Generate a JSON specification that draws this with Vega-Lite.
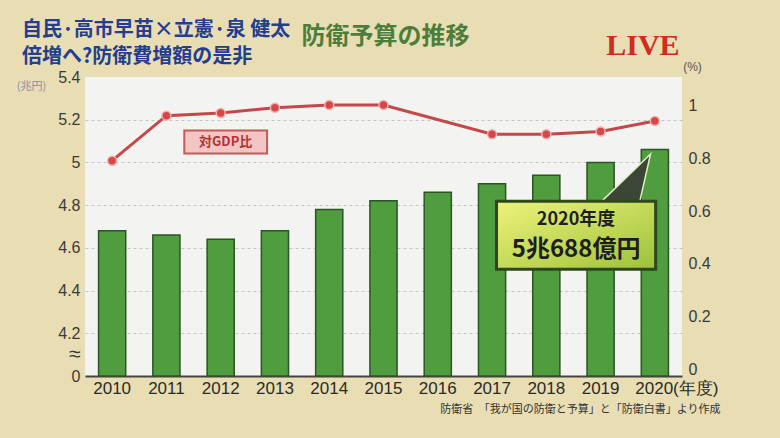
{
  "$schema": "https://vega.github.io/schema/vega-lite/v6.json",
  "width": 597,
  "height": 299,
  "autosize": {"type": "none"},
  "padding": {"left": 85, "top": 77, "right": 98, "bottom": 62},
  "background": "#e8ddb3",
  "title": {
    "text": ["自民·高市早苗×立憲·泉 健太", "倍増へ?防衛費増額の是非"],
    "anchor": "start",
    "frame": "group",
    "dx": -63,
    "dy": 47,
    "fontSize": 20,
    "lineHeight": 27,
    "font": "Noto Sans CJK JP",
    "fontWeight": "bold",
    "color": "#233d8f"
  },
  "datasets": {
    "main": [
      {"year": 2010, "budget": 4.68, "gdp": 0.79},
      {"year": 2011, "budget": 4.66, "gdp": 0.96},
      {"year": 2012, "budget": 4.64, "gdp": 0.97},
      {"year": 2013, "budget": 4.68, "gdp": 0.99},
      {"year": 2014, "budget": 4.78, "gdp": 1.0},
      {"year": 2015, "budget": 4.82, "gdp": 1.0},
      {"year": 2016, "budget": 4.86, "gdp": null},
      {"year": 2017, "budget": 4.9, "gdp": 0.89},
      {"year": 2018, "budget": 4.94, "gdp": 0.89},
      {"year": 2019, "budget": 5.0, "gdp": 0.9},
      {"year": 2020, "budget": 5.06, "gdp": 0.94}
    ]
  },
  "layer": [
    {
      "encoding": {
        "x": {
          "field": "year", "type": "ordinal",
          "scale": {"paddingInner": 0.5, "paddingOuter": 0.25},
          "axis": {
            "orient": "bottom",
            "title": "防衛省　「我が国の防衛と予算」と「防衛白書」より作成",
            "labelAngle": 0, "domainColor": "#444", "domainWidth": 2, "ticks": false,
            "labelFontSize": 17, "labelColor": "#2a2a2a", "labelPadding": 4,
            "labelFont": "Liberation Sans",
            "labelExpr": "datum.value == 2020 ? '2020(年度)' : datum.label",
            "labelOffset": {"condition": {"test": "datum.value == 2020", "value": 22}, "value": 0},
            "titleFont": "Noto Sans CJK JP", "titleFontSize": 11, "titleFontWeight": "normal",
            "titleColor": "#333", "titleX": 635, "titleY": 33, "titleAlign": "right", "titleBaseline": "middle",
            "grid": false
          }
        },
        "y": {
          "field": "budget", "type": "quantitative",
          "scale": {"domain": [4, 5.4], "zero": false, "nice": false},
          "axis": {
            "orient": "left", "title": "(兆円)", "titleAngle": 0, "titleX": -54, "titleY": 9,
            "titleAlign": "center", "titleBaseline": "middle", "titleFontSize": 11, "titleFontWeight": "normal",
            "titleColor": "#8a90a8", "titleFont": "Noto Sans CJK JP",
            "values": [4, 4.1, 4.2, 4.4, 4.6, 4.8, 5, 5.2, 5.4],
            "labelExpr": "datum.value < 4.05 ? '0' : datum.value < 4.15 ? '≈' : '' + datum.value",
            "labelFontSize": {"condition": {"test": "datum.value > 4.05 && datum.value < 4.15", "value": 21}, "value": 16},
            "labelColor": "#3a3a3a", "labelPadding": 5, "labelOverlap": false,
            "labelFont": "Liberation Sans",
            "domain": false, "ticks": false,
            "grid": true, "gridDash": [3, 3], "gridColor": "#c4c4c4", "gridWidth": 1,
            "gridOpacity": {"condition": {"test": "datum.value < 4.15 || datum.value > 5.35", "value": 0}, "value": 1}
          }
        }
      },
      "layer": [
        {
          "data": {"name": "main"},
          "mark": {"type": "bar", "fill": "#4f9d3f", "stroke": "#2d5426", "strokeWidth": 1.5},
          "encoding": {"y2": {"datum": 4}}
        },
        {
          "data": {"values": [{"year": 2019, "budget": 4.659}]},
          "mark": {"type": "point", "shape": "M0.6,-0.85L1.84,-0.85L2.19,-2.39Z", "size": 4624, "filled": true, "fill": "#3b4636", "stroke": "#dfeec6", "strokeWidth": 1.5, "opacity": 1, "xOffset": -24.5}
        },
        {
          "data": {"values": [{"year": 2019, "budget": 4.659}]},
          "mark": {
            "type": "point", "shape": "M-2.34,-1L2.34,-1L2.34,1L-2.34,1Z", "size": 4624, "filled": true,
            "fill": {"gradient": "linear", "x1": 0, "y1": 0, "x2": 1, "y2": 1, "stops": [{"offset": 0, "color": "#eef27a"}, {"offset": 1, "color": "#9cc23a"}]},
            "stroke": "#2d481c", "strokeWidth": 3, "opacity": 1, "xOffset": -24.5
          }
        },
        {
          "data": {"values": [{"year": 2019, "budget": 4.73, "label": "2020年度"}]},
          "mark": {"type": "text", "font": "Noto Sans CJK JP", "fontSize": 18, "fontWeight": "bold", "color": "#1e1e1e", "xOffset": -24.5, "baseline": "middle"},
          "encoding": {"text": {"field": "label"}}
        },
        {
          "data": {"values": [{"year": 2019, "budget": 4.592, "label": "5兆688億円"}]},
          "mark": {"type": "text", "font": "Noto Sans CJK JP", "fontSize": 24, "fontWeight": "bold", "color": "#1e1e1e", "xOffset": -24.5, "baseline": "middle"},
          "encoding": {"text": {"field": "label"}}
        }
      ]
    },
    {
      "encoding": {
        "x": {
          "field": "year", "type": "ordinal",
          "axis": {
            "orient": "top", "title": "防衛予算の推移", "titleFont": "Noto Sans CJK JP", "titleFontSize": 24,
            "titleFontWeight": "bold", "titleColor": "#4d7d3b", "titleX": 300, "titleY": -41,
            "titleAlign": "center", "titleBaseline": "middle",
            "domain": false, "ticks": false, "grid": false,
            "labelExpr": "datum.value == 2020 ? 'LIVE' : ''",
            "labelFont": "Liberation Serif", "labelFontSize": 30, "labelFontWeight": "bold",
            "labelColor": "#d42a22", "labelBaseline": "middle", "labelPadding": 32, "labelOffset": -12, "labelAngle": 0
          }
        },
        "y": {
          "field": "gdp", "type": "quantitative",
          "scale": {"domain": [-0.023, 1.106], "zero": false, "nice": false},
          "axis": {
            "orient": "right", "title": "(%)", "titleAngle": 0, "titleX": 10, "titleY": -11,
            "titleAlign": "center", "titleBaseline": "middle", "titleFontSize": 12, "titleFontWeight": "normal",
            "titleColor": "#555",
            "values": [0, 0.2, 0.4, 0.6, 0.8, 1],
            "labelExpr": "'' + datum.value",
            "labelFontSize": 16, "labelColor": "#3a3a3a", "labelPadding": 6, "labelOverlap": false,
            "labelFont": "Liberation Sans",
            "domain": false, "ticks": false, "grid": false
          }
        }
      },
      "layer": [
        {
          "data": {"name": "main"},
          "transform": [{"filter": "isValid(datum.gdp)"}],
          "mark": {"type": "line", "color": "#c6474a", "strokeWidth": 3}
        },
        {
          "data": {"name": "main"},
          "transform": [{"filter": "isValid(datum.gdp)"}],
          "mark": {"type": "point", "filled": true, "size": 80, "fill": "#d44848", "stroke": "#f2b0b0", "strokeWidth": 1.5, "opacity": 1}
        },
        {
          "data": {"values": [{"year": 2012, "gdp": 0.861, "label": "対GDP比"}]},
          "mark": {"type": "point", "shape": "M-3.6,-1L3.6,-1L3.6,1L-3.6,1Z", "size": 529, "filled": true, "fill": "#f1c6c4", "stroke": "#c45a58", "strokeWidth": 2, "opacity": 1, "xOffset": 5}
        },
        {
          "data": {"values": [{"year": 2012, "gdp": 0.861, "label": "対GDP比"}]},
          "mark": {"type": "text", "font": "Noto Sans CJK JP", "fontSize": 13, "fontWeight": "bold", "color": "#b53232", "xOffset": 5, "baseline": "middle"},
          "encoding": {"text": {"field": "label"}}
        }
      ]
    }
  ],
  "resolve": {"scale": {"y": "independent"}, "axis": {"x": "independent"}},
  "config": {
    "font": "Liberation Sans",
    "view": {"fill": "#f3f3f1", "stroke": null}
  }
}
